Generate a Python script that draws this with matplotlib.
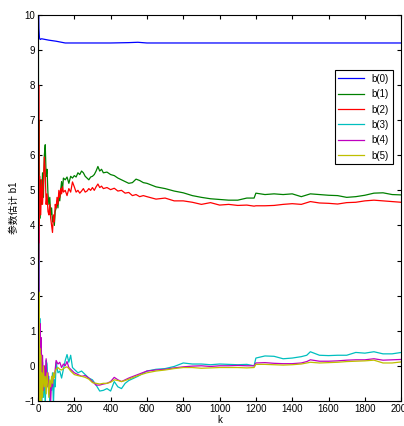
import matplotlib
matplotlib.use("Agg")
import matplotlib.pyplot as plt

plt.rcParams['font.family'] = ['Liberation Sans', 'Noto Sans CJK SC']

# parameter estimates b(0)..b(5) against k
k_top = [0, 1, 2, 3, 5, 8, 12, 20, 40, 60, 100, 150, 200, 300, 400, 500, 550, 600, 700, 1000, 1500, 2000]
b0 = [0, 10.6, 9.0, 10.2, 9.6, 9.35, 9.3, 9.32, 9.3, 9.28, 9.25, 9.2, 9.2, 9.2, 9.2, 9.21, 9.22, 9.2, 9.2, 9.2, 9.2, 9.2]

k_mid = [0, 1, 2, 4, 6, 10, 15, 20, 25, 30,
         35, 40, 45, 50, 55, 60, 65, 70, 75, 80,
         85, 90, 95, 100, 105, 110, 115, 120, 125, 130,
         135, 140, 150, 160, 170, 180, 190, 200, 210, 220,
         230, 240, 250, 260, 270, 280, 290, 300, 310, 320,
         330, 340, 350, 360, 380, 400, 420, 440, 460, 480,
         500, 520, 540, 560, 580, 600, 650, 700, 750, 800,
         850, 900, 950, 1000, 1050, 1100, 1150, 1190, 1200, 1250,
         1300, 1350, 1400, 1450, 1500, 1550, 1600, 1650, 1700, 1750,
         1800, 1850, 1900, 1950, 2000]
b1 = [0, -3, 11, 3, 7, 4.2, 5.3, 4.6, 5.5, 4.8,
      6.0, 6.3, 5.4, 5.6, 4.9, 4.6, 4.8, 4.3, 4.5, 4.1,
      4.25, 4.0, 4.4, 4.5, 4.7, 4.5, 4.9, 4.7, 5.0, 5.25,
      5.0, 5.35, 5.3, 5.38, 5.2, 5.4, 5.35, 5.42, 5.38, 5.5,
      5.45, 5.55, 5.5, 5.4, 5.35, 5.3, 5.38, 5.4, 5.45, 5.55,
      5.68, 5.55, 5.6, 5.5, 5.52, 5.45, 5.42, 5.35, 5.3, 5.25,
      5.2, 5.22, 5.32, 5.28, 5.22, 5.2, 5.1, 5.05, 4.98, 4.93,
      4.85, 4.8, 4.76, 4.74, 4.72, 4.72, 4.78, 4.78, 4.92, 4.88,
      4.9, 4.88, 4.9, 4.82, 4.9, 4.88, 4.86, 4.85, 4.8, 4.82,
      4.86, 4.92, 4.93, 4.88, 4.87]
b2 = [0, 12, -2, 8, 3.5, 5.4, 4.3, 5.3, 4.6, 5.2,
      5.95, 5.5, 4.6, 4.9, 4.4, 4.3, 4.6, 4.2, 4.0, 3.8,
      4.3, 4.1, 4.6, 4.5, 4.8, 4.6, 5.0, 4.8, 5.05, 4.9,
      5.1, 4.95, 5.0, 4.85, 5.05, 4.95, 5.24, 5.1, 4.95, 5.0,
      4.92, 4.98, 5.05, 4.95, 4.98, 5.05, 5.0, 5.08, 5.0, 5.1,
      5.18, 5.08, 5.12, 5.05, 5.08, 5.02, 5.06, 4.98, 5.0, 4.92,
      4.94, 4.85, 4.88, 4.82, 4.85, 4.82, 4.75, 4.78, 4.7, 4.7,
      4.66, 4.6, 4.65, 4.58, 4.6, 4.57, 4.58, 4.55, 4.56, 4.56,
      4.57, 4.6, 4.62, 4.6, 4.68, 4.64, 4.63, 4.61, 4.65, 4.66,
      4.7, 4.72, 4.7, 4.68, 4.66]

k_low = [0, 1, 2, 3, 5, 8, 10, 12, 15, 18,
         20, 25, 30, 35, 40, 45, 50, 55, 60, 65,
         70, 75, 80, 85, 90, 95, 100, 110, 120, 130,
         140, 150, 160, 170, 180, 190, 200, 220, 240, 260,
         280, 300, 320, 340, 360, 380, 400, 420, 440, 460,
         480, 500, 550, 600, 650, 700, 750, 800, 850, 900,
         950, 1000, 1050, 1100, 1150, 1190, 1200, 1250, 1300, 1350,
         1400, 1450, 1480, 1500, 1550, 1600, 1650, 1700, 1750, 1800,
         1850, 1900, 1950, 2000]
b3 = [0, -4, 8, -2, 3, -1.5, 1.35, 0.2, -0.8, 0.6,
      -1.2, 0.1, -0.9, -0.2, -1.2, 0.15, 0.05, -0.6, -0.3, -1.1,
      -0.5, -0.7, -0.2, -1.1, -0.4, -0.6, 0.1, -0.2, -0.15, -0.35,
      -0.1, 0.15, 0.32, 0.1, 0.3, -0.05, -0.1, -0.2, -0.15, -0.25,
      -0.35, -0.4, -0.55, -0.72, -0.7, -0.65, -0.72, -0.45, -0.6, -0.65,
      -0.5, -0.42, -0.3, -0.15, -0.1, -0.08, -0.02, 0.08, 0.05, 0.05,
      0.03, 0.05, 0.04, 0.03, 0.04, 0.0, 0.22, 0.28, 0.27, 0.2,
      0.22, 0.26, 0.3, 0.4, 0.3, 0.29, 0.3, 0.3, 0.38, 0.36,
      0.4, 0.34, 0.34, 0.38]
b4 = [0, 6, -5, 4, 2.9, -1.2, 0.4, 1.2, -0.5, 0.8,
      -0.3, 0.3, -0.7, 0.0, -0.4, 0.2, -0.6, -0.2, -0.8, -0.5,
      -1.0, -0.4, -0.6, -0.25, -0.3, -0.1, 0.15, 0.05, 0.1, -0.05,
      0.05, 0.0, 0.12, -0.05, -0.1, -0.15, -0.2, -0.25, -0.3, -0.28,
      -0.35, -0.45, -0.55, -0.55, -0.52, -0.5, -0.45, -0.33, -0.4, -0.45,
      -0.4, -0.35, -0.25, -0.15, -0.12, -0.1, -0.06, -0.03, -0.01, 0.0,
      -0.02, 0.0, 0.0, 0.01, 0.0, 0.0, 0.08, 0.09, 0.07, 0.06,
      0.06, 0.08, 0.12, 0.17, 0.13, 0.13, 0.14, 0.16, 0.17, 0.17,
      0.2, 0.16, 0.17, 0.18]
b5 = [0, -6, 5, -3, 2.1, -1.5, 0.5, -0.8, 0.3, -1.2,
      -0.2, -0.9, 0.0, -0.6, -0.3, -0.8, -0.2, -0.5, -0.9, -0.4,
      -0.6, -0.3, -0.5, -0.2, -0.35, -0.15, -0.1, -0.05, -0.1, -0.12,
      -0.08, -0.05, -0.03, -0.08, -0.15, -0.2, -0.25, -0.28, -0.3, -0.33,
      -0.38, -0.48, -0.5, -0.52, -0.5, -0.5, -0.47, -0.4, -0.42, -0.45,
      -0.42, -0.38, -0.28, -0.2, -0.15, -0.12, -0.08, -0.05, -0.05, -0.07,
      -0.06, -0.05, -0.05, -0.05, -0.06, -0.05, 0.04, 0.04, 0.03, 0.02,
      0.03, 0.05, 0.08, 0.1, 0.08, 0.09, 0.1, 0.12, 0.13, 0.14,
      0.16, 0.08, 0.08, 0.11]

labels = ['b(0)', 'b(1)', 'b(2)', 'b(3)', 'b(4)', 'b(5)']
colors = ['#0000ff', '#008000', '#ff0000', '#00bfbf', '#bf00bf', '#bfbf00']

fig = plt.figure(figsize=(4.04, 4.26), dpi=100)
ax = fig.add_axes([0.094, 0.059, 0.899, 0.906])

series = [(k_top, b0), (k_mid, b1), (k_mid, b2), (k_low, b3), (k_low, b4), (k_low, b5)]
for (kk, vals), lab, c in zip(series, labels, colors):
    ax.plot(kk, vals, color=c, lw=0.9, label=lab)

ax.set_xlim(0, 2000)
ax.set_ylim(-1, 10)
ax.set_xticks(range(0, 2001, 200))
ax.set_yticks(range(-1, 11))
ax.tick_params(direction='in', labelsize=7, length=3, top=True, right=True, pad=2)
ax.set_xlabel('k', fontsize=7, labelpad=1)
ax.set_ylabel('参数估计 b1', fontsize=7, labelpad=4)

leg = ax.legend(loc='upper right', bbox_to_anchor=(0.99, 0.87), fontsize=7,
                fancybox=False, edgecolor='black', framealpha=1,
                handlelength=2.6, labelspacing=0.55, borderpad=0.4)
leg.get_frame().set_linewidth(0.8)

fig.savefig('out.png', dpi=100)
